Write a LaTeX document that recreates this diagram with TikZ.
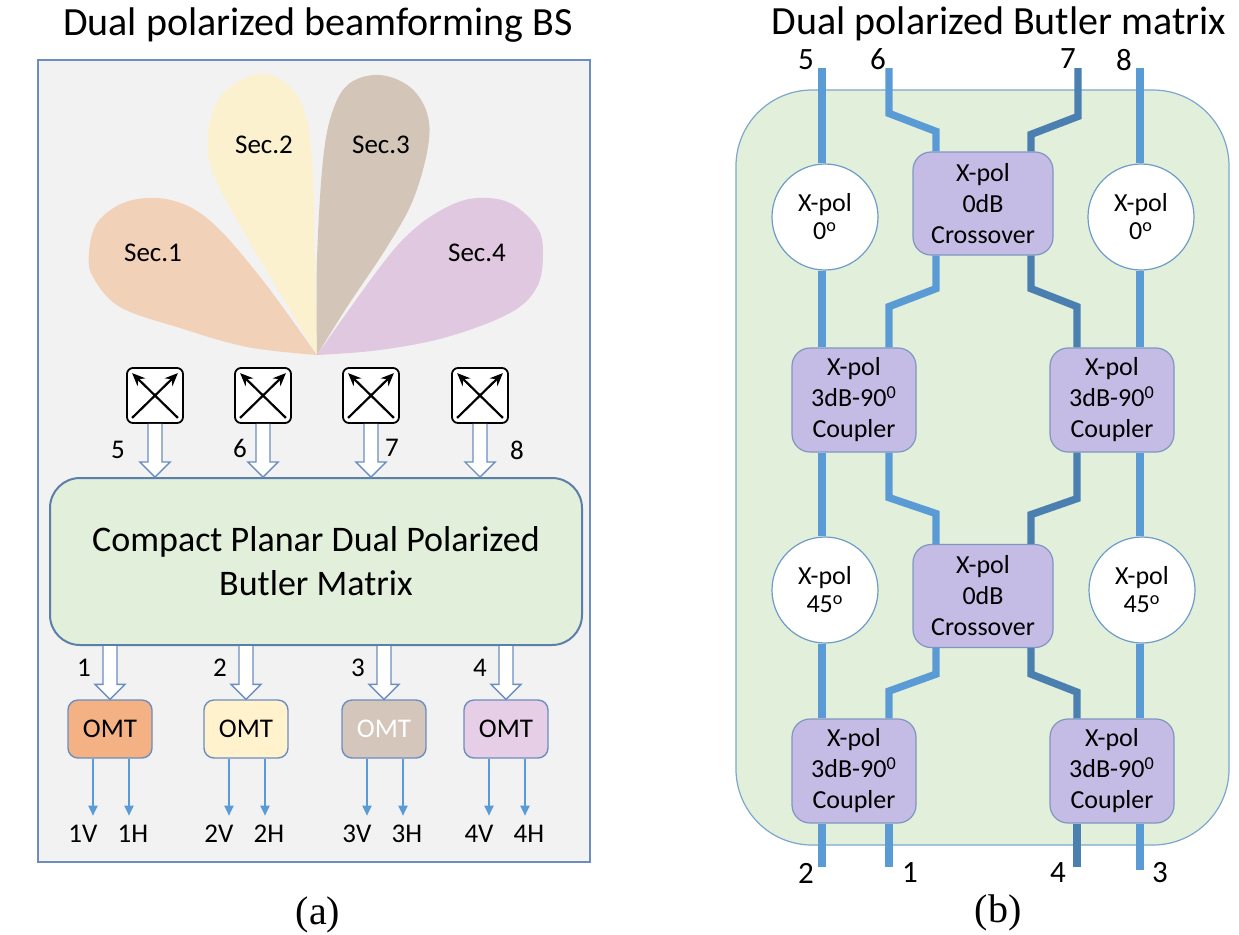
\documentclass[tikz,border=0pt]{standalone}
\usepackage{fontspec}
\setmainfont{Carlito}
\newfontfamily\captfont{Liberation Serif}
\usetikzlibrary{arrows.meta,calc}

\definecolor{panelgray}{HTML}{F2F2F2}
\definecolor{edgeblue}{HTML}{6C8EBF}
\definecolor{boxedge}{HTML}{5A7FAA}
\definecolor{mgreen}{HTML}{E2EFDA}
\definecolor{bmedge}{HTML}{7BA7CF}
\definecolor{tracecol}{HTML}{5B9BD5}
\definecolor{tracedark}{HTML}{4A7FB0}
\definecolor{lilac}{HTML}{C4BCE4}
\definecolor{lilacedge}{HTML}{8096C2}
\definecolor{circedge}{HTML}{6E9CC9}
\definecolor{omtA}{HTML}{F4B183}
\definecolor{omtB}{HTML}{FFF2CC}
\definecolor{omtC}{HTML}{D5C6BC}
\definecolor{omtD}{HTML}{E5CEE6}
\definecolor{secA}{HTML}{F2C7A6}
\definecolor{secB}{HTML}{FFF1C3}
\definecolor{secC}{HTML}{CBB6A7}
\definecolor{secD}{HTML}{DABADB}

\tikzset{
  every node/.style={font=\fontsize{13.5}{16}\selectfont},
  title/.style={inner sep=0pt, font=\fontsize{20}{24}\selectfont},
  capt/.style={font=\captfont\fontsize{20}{24}\selectfont},
  portnum/.style={inner sep=0pt, font=\fontsize{15.5}{18}\selectfont},
  beam/.style={opacity=.75},
  antbox/.style={draw, line width=0.9pt, rounded corners=3pt, fill=white,
    minimum width=28pt, minimum height=27.5pt, inner sep=0pt},
  xarrow/.style={line width=1.1pt, -{Stealth[length=6.5pt,width=5.5pt]}},
  fatarrow/.style={draw=edgeblue, fill=white, line width=0.7pt},
  bfn/.style={draw=boxedge, fill=mgreen, line width=1pt, rounded corners=15pt,
    minimum width=266pt, minimum height=83.5pt, align=center,
    font=\fontsize{18}{22}\selectfont},
  omt/.style={draw=edgeblue, line width=0.7pt, rounded corners=5pt,
    minimum width=42pt, minimum height=29pt, inner sep=0pt},
  feed/.style={draw=tracecol, line width=0.9pt, -{Triangle[length=5pt,width=4.5pt]}},
  trace/.style={draw=tracecol, line width=3.7pt},
  tracedk/.style={trace, draw=tracedark},
  pbox/.style={draw=lilacedge, fill=lilac, line width=0.6pt, rounded corners=9pt,
    align=center, inner sep=0pt, minimum height=51.5pt,
    font=\fontsize{13}{15.5}\selectfont},
  phase/.style={circle, draw=circedge, fill=white, line width=0.6pt,
    minimum size=53pt, inner sep=0pt, align=center,
    font=\fontsize{13}{14}\selectfont},
}

% hollow block arrow: #1 start of the shaft, #2 the tip
\newcommand\fatarrow[2]{%
  \draw[fatarrow] ($(#1)+(-7,0)$) -- ($(#2)+(-7,-15)$) -- ($(#2)+(-15,-15)$) -- (#2)
    -- ($(#2)+(15,-15)$) -- ($(#2)+(7,-15)$) -- ($(#1)+(7,0)$);}

\begin{document}
\begin{tikzpicture}[x=0.5pt, y=-0.5pt]
\useasboundingbox (0,0) rectangle (1239,934);

%%% (a) beamforming base station
\node[title] (ttla) at (318,25) {Dual polarized beamforming BS};
\filldraw[draw=edgeblue, fill=panelgray, line width=0.7pt] (38,60) rectangle (590,862);

% sector beams
\fill[beam, secA] plot[smooth, tension=0.6] coordinates {(317,355) (247,347) (180,328)
  (120,307) (93,277) (89,253) (97,223) (123,203) (157,198) (190,207) (220,230)
  (257,273) (287,313) (317,355)} -- cycle;
\fill[beam, secB] plot[smooth, tension=0.6] coordinates {(317,355) (280,293) (237,220)
  (212,170) (208,133) (220,97) (247,77) (270,75) (293,90) (307,120) (313,177)
  (315,260) (317,355)} -- cycle;
\fill[beam, secC] plot[smooth, tension=0.6] coordinates {(317,355) (317,260) (323,160)
  (333,110) (350,83) (380,75) (410,87) (427,113) (428,147) (413,200) (387,247)
  (347,307) (317,355)} -- cycle;
\fill[beam, secD] plot[smooth, tension=0.6] coordinates {(317,355) (380,267) (413,230)
  (447,207) (477,198) (510,203) (537,227) (543,253) (537,287) (510,313) (447,337)
  (380,350) (317,355)} -- cycle;
\node (sec1) at (153,253) {Sec.1};
\node (sec2) at (264,145) {Sec.2};
\node (sec3) at (381,145) {Sec.3};
\node (sec4) at (477,253) {Sec.4};

\node[bfn] (bfn) at (316,561.5) {Compact Planar Dual Polarized\\Butler Matrix};

% antennas and inputs 5..8
\foreach \n/\x/\lab/\lx/\ly in {1/155/5/118/450, 2/263/6/240/448, 3/371/7/392/448, 4/480/8/517/450} {
  \node[antbox] (ant\n) at (\x,395.5) {};
  \draw[xarrow] ($(ant\n.south west)+(6,-6)$) -- ($(ant\n.north east)+(-6,6)$);
  \draw[xarrow] ($(ant\n.south east)+(-6,-6)$) -- ($(ant\n.north west)+(6,6)$);
  \coordinate (in\n) at (ant\n.south |- bfn.north);
  \fatarrow{ant\n.south}{in\n}
  \node (num\lab) at (\lx,\ly) {\lab};
}

% outputs 1..4 and OMTs
\foreach \n/\x/\c/\t/\lx in {1/110/omtA/black/84, 2/246/omtB/black/220, 3/384/omtC/white/358, 4/506/omtD/black/480} {
  \node[omt, fill=\c, text=\t] (omt\n) at (\x,729) {OMT};
  \coordinate (out\n) at (bfn.south -| omt\n.north);
  \fatarrow{out\n}{omt\n.north}
  \node (port\n) at (\lx,668) {\n};
  \draw[feed] ($(omt\n.south)+(-17,0)$) -- ++(0,57) node[below=1pt, xshift=-5pt] (v\n) {\n V};
  \draw[feed] ($(omt\n.south)+(19,0)$) -- ++(0,57) node[below=1pt, xshift=2pt] (h\n) {\n H};
}

\node[capt] (capa) at (318,915) {(a)};

%%% (b) dual polarized Butler matrix
\node[title] (ttlb) at (999,24) {Dual polarized Butler matrix};
\draw[draw=bmedge, fill=mgreen, line width=0.6pt, rounded corners=38pt] (736,90) rectangle (1229,845);

% port ends and trace columns
\coordinate (p5) at (822,68);
\coordinate (p6) at (889,68);
\coordinate (p7) at (1078,68);
\coordinate (p8) at (1140,68);
\coordinate (q2) at (822,867);
\coordinate (q1) at (889,867);
\coordinate (q4) at (1077,867);
\coordinate (q3) at (1140,870);
\coordinate (cA) at (822,0);
\coordinate (cB) at (889,0);
\coordinate (cC) at (936,0);
\coordinate (cD) at (1031,0);
\coordinate (cE) at (1077,0);
\coordinate (cF) at (1140,0);

\node[pbox, minimum width=70pt] (cr1) at (983,203.5) {X-pol\\0dB\\Crossover};
\node[pbox, minimum width=70pt] (cr2) at (983,596) {X-pol\\0dB\\Crossover};
\node[pbox, minimum width=62pt, minimum height=52pt] (cpl1) at (854,400) {X-pol\\3dB-90\textsuperscript{0}\\Coupler};
\node[pbox, minimum width=62pt, minimum height=52pt] (cpr1) at (1112,400) {X-pol\\3dB-90\textsuperscript{0}\\Coupler};
\node[pbox, minimum width=62pt, minimum height=52pt] (cpl2) at (854,771) {X-pol\\3dB-90\textsuperscript{0}\\Coupler};
\node[pbox, minimum width=62pt, minimum height=52pt] (cpr2) at (1112,771) {X-pol\\3dB-90\textsuperscript{0}\\Coupler};
\node[phase] (ph1) at (825,217) {X-pol\\0\textsuperscript{o}};
\node[phase] (ph2) at (1141,217) {X-pol\\0\textsuperscript{o}};
\node[phase] (ph3) at (825,590) {X-pol\\45\textsuperscript{o}};
\node[phase] (ph4) at (1142,590) {X-pol\\45\textsuperscript{o}};

% straight traces
\draw[trace] (p5) -- (ph1.north -| cA);
\draw[trace] (ph1.south -| cA) -- (cpl1.north -| cA);
\draw[trace] (cpl1.south -| cA) -- (ph3.north -| cA);
\draw[trace] (ph3.south -| cA) -- (cpl2.north -| cA);
\draw[trace] (cpl2.south -| cA) -- (q2);
\draw[trace] (p8) -- (ph2.north -| cF);
\draw[trace] (ph2.south -| cF) -- (cpr1.north -| cF);
\draw[trace] (cpr1.south -| cF) -- (ph4.north -| cF);
\draw[trace] (ph4.south -| cF) -- (cpr2.north -| cF);
\draw[trace] (cpr2.south -| cF) -- (q3);
\draw[trace] (cpl2.south -| cB) -- (q1);
\draw[tracedk] (cpr2.south -| cE) -- (q4);

% jogged traces
\draw[trace] (cr1.north -| cC) -- ++(0,-20) -- ++(-47,-18) -- (p6);
\draw[tracedk] (cr1.north -| cD) -- ++(0,-17) -- ++(47,-18) -- (p7);
\draw[trace] (cr1.south -| cC) -- ++(0,33) -- ++(-47,18) -- (cpl1.north -| cB);
\draw[tracedk] (cr1.south -| cD) -- ++(0,33) -- ++(46,18) -- (cpr1.north -| cE);
\draw[trace] (cpl1.south -| cB) -- ++(0,45) -- ++(47,16) -- (cr2.north -| cC);
\draw[tracedk] (cpr1.south -| cE) -- ++(0,46) -- ++(-46,16) -- (cr2.north -| cD);
\draw[trace] (cr2.south -| cC) -- ++(0,26) -- ++(-47,17) -- (cpl2.north -| cB);
\draw[tracedk] (cr2.south -| cD) -- ++(0,26) -- ++(46,18) -- (cpr2.north -| cE);

% port numbers
\node[portnum] (n5) at (806,60) {5};
\node[portnum] (n6) at (878,59) {6};
\node[portnum] (n7) at (1068,59) {7};
\node[portnum] (n8) at (1124,60) {8};
\node[portnum] (n2) at (806,873) {2};
\node[portnum] (n1) at (910,873) {1};
\node[portnum] (n4) at (1058,873) {4};
\node[portnum] (n3) at (1160,873) {3};

\node[capt] (capb) at (998,913) {(b)};
\end{tikzpicture}
\end{document}
